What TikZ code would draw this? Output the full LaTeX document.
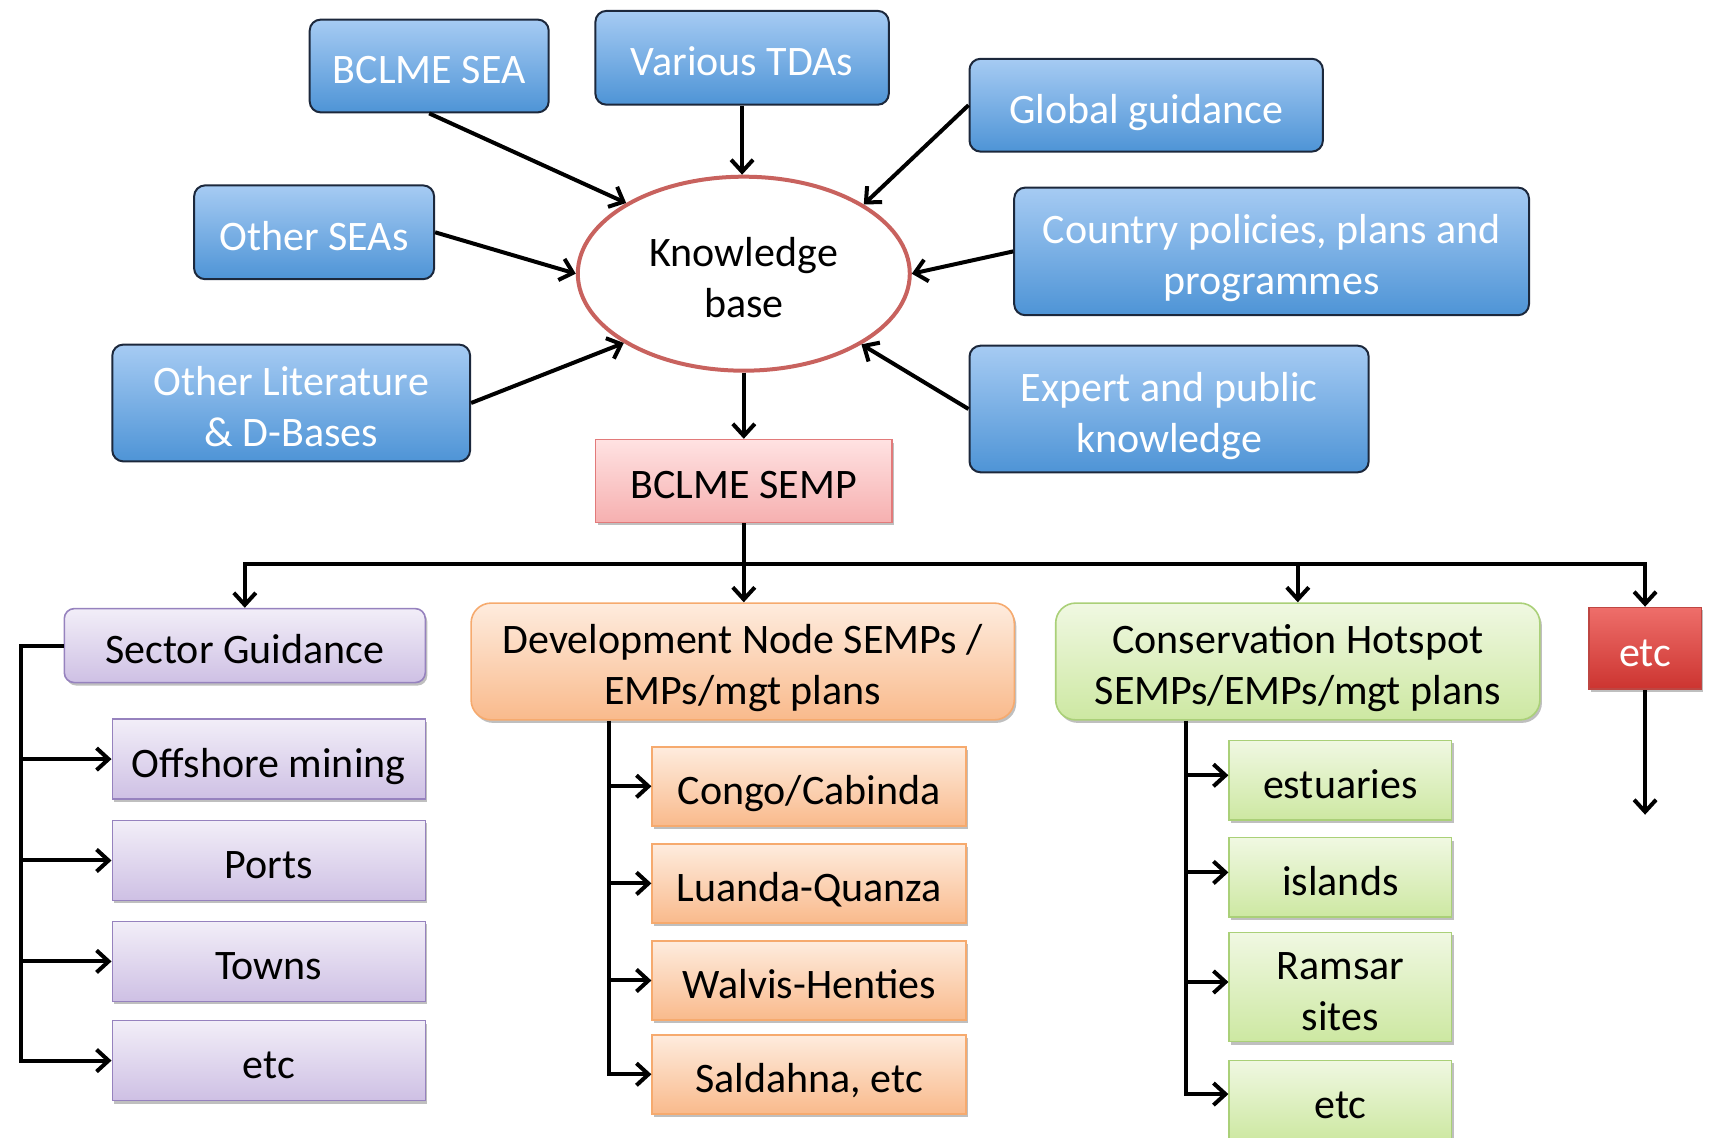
\documentclass[tikz,border=0pt]{standalone}
\usepackage{fontspec}
\setmainfont{Carlito}
\usetikzlibrary{arrows.meta,shadows,shapes.geometric,calc}
\definecolor{bluetop}{RGB}{166,203,243}
\definecolor{bluebot}{RGB}{78,148,214}
\definecolor{blueedge}{RGB}{28,40,60}
\definecolor{kbred}{RGB}{200,98,94}
\definecolor{semptop}{RGB}{255,226,226}
\definecolor{sempbot}{RGB}{246,176,176}
\definecolor{sempedge}{RGB}{226,122,122}
\definecolor{lavtop}{RGB}{242,238,248}
\definecolor{lavbot}{RGB}{206,192,228}
\definecolor{lavedge}{RGB}{150,130,190}
\definecolor{ortop}{RGB}{254,236,222}
\definecolor{orbot}{RGB}{249,186,140}
\definecolor{oredge}{RGB}{246,170,110}
\definecolor{grtop}{RGB}{240,248,226}
\definecolor{grbot}{RGB}{205,232,162}
\definecolor{gredge}{RGB}{170,208,120}
\definecolor{redtop}{RGB}{238,110,106}
\definecolor{redbot}{RGB}{204,52,48}
\definecolor{rededge}{RGB}{190,70,66}
\newcommand\linestrut{\rule[-5.25pt]{0pt}{28.45pt}}
\newcommand\lsa{\rule{0pt}{23.2pt}}
\newcommand\lsb{\rule[-5.25pt]{0pt}{5.25pt}}
\begin{document}
\begin{tikzpicture}[x=0.5pt,y=-0.5pt,
  every node/.style={font=\fontsize{21}{25.5}\selectfont, align=center, inner sep=0pt,
    execute at begin node=\linestrut, execute at end node=\linestrut},
  arr/.style={line width=2pt, -{Straight Barb[length=6pt,width=11pt]}},
  ln/.style={line width=2pt},
  shade/.style={drop shadow={shadow xshift=1pt, shadow yshift=-1.5pt, opacity=0.25, fill=black}},
  bluebox/.style={draw=blueedge, line width=1pt, rounded corners=5.5pt, top color=bluetop, bottom color=bluebot, text=white},
  kbstyle/.style={ellipse, draw=kbred, line width=2pt, fill=white, minimum width=166pt, minimum height=97pt},
  sempbox/.style={rectangle, draw=sempedge, line width=0.8pt, top color=semptop, bottom color=sempbot, shade},
  lavhead/.style={rectangle, rounded corners=5pt, draw=lavedge, line width=0.8pt, top color=lavtop, bottom color=lavbot, shade},
  lavsub/.style={rectangle, draw=lavedge, line width=0.8pt, top color=lavtop, bottom color=lavbot, shade, minimum width=156.5pt, minimum height=40pt},
  orhead/.style={rectangle, rounded corners=10pt, draw=oredge, line width=0.8pt, top color=ortop, bottom color=orbot, shade},
  orsub/.style={rectangle, draw=oredge, line width=0.8pt, top color=ortop, bottom color=orbot, shade, minimum width=157pt, minimum height=39.5pt},
  grhead/.style={rectangle, rounded corners=10pt, draw=gredge, line width=0.8pt, top color=grtop, bottom color=grbot, shade},
  grsub/.style={rectangle, draw=gredge, line width=0.8pt, top color=grtop, bottom color=grbot, shade, minimum width=111.2pt, minimum height=39.8pt},
  redbox/.style={rectangle, draw=rededge, line width=0.8pt, top color=redtop, bottom color=redbot, text=white, shade}
]
\useasboundingbox (0,0) rectangle (1710,1138);
\clip (0,0) rectangle (1710,1138);

% top blue boxes
\node[bluebox, minimum width=119.5pt, minimum height=46.4pt] (sea) at (429.2,66.0) {BCLME SEA};
\node[bluebox, minimum width=146.7pt, minimum height=46.9pt] (tda) at (742.1,57.8) {Various TDAs};
\node[bluebox, minimum width=176.7pt, minimum height=46.4pt] (glob) at (1146.2,105.2) {Global guidance};
\node[bluebox, minimum width=120pt, minimum height=46.9pt] (oth) at (314.1,232.3) {Other SEAs};
\node[bluebox, minimum width=257.4pt, minimum height=63.8pt] (ctry) at (1271.6,251.4) {\lsa Country policies, plans and\\programmes\lsb};
\node[bluebox, minimum width=178.9pt, minimum height=58.4pt] (lit) at (291.2,403.0) {\lsa Other Literature\\\& D-Bases\lsb};
\node[bluebox, minimum width=199.6pt, minimum height=63.3pt] (exp) at (1169.1,409.0) {\lsa Expert and public\\knowledge\lsb};

\node[kbstyle] (kb) at (743.8,273.7) {\lsa Knowledge\\base\lsb};
\node[sempbox, minimum width=148.3pt, minimum height=41.4pt] (semp) at (743.8,481.0) {BCLME SEMP};

\draw[arr] (sea.south) -- (kb.149);
\draw[arr] (tda.south) -- (tda.south |- kb.north);
\draw[arr] (glob.west) -- (kb.30);
\draw[arr] (oth.east) -- (kb.west);
\draw[arr] (ctry.west) -- (kb.east);
\draw[arr] (lit.east) -- (kb.210);
\draw[arr] (exp.west) -- (kb.-31);
\draw[arr] (kb.south) -- (semp.north);

% second level
\node[lavhead, minimum width=180.5pt, minimum height=37pt] (sg) at (244.8,645.6) {Sector Guidance};
\node[orhead, minimum width=271.6pt, minimum height=58.4pt] (dev) at (742.7,661.5) {\lsa Development Node SEMPs /\\EMPs/mgt plans\lsb};
\node[grhead, minimum width=242.1pt, minimum height=58.4pt] (cons) at (1297.8,661.5) {\lsa Conservation Hotspot\\SEMPs/EMPs/mgt plans\lsb};
\node[redbox, minimum width=56.2pt, minimum height=40.9pt] (etc) at (1645.1,648.4) {etc};

\coordinate (bus) at (743.8,563.8);
\draw[arr] (semp.south) -- (semp.south |- bus) -| (sg.north);
\draw[arr] (semp.south |- bus) -- (semp.south |- dev.north);
\draw[arr] (semp.south |- bus) -| (cons.north);
\draw[arr] (semp.south |- bus) -| (etc.north);
\coordinate (etcend) at (1645.1,814.7);
\draw[arr] (etc.south) -- (etcend);

% sector guidance subs
\node[lavsub] (s1) at (268.8,759.1) {Offshore mining};
\node[lavsub] (s2) at (268.8,860.5) {Ports};
\node[lavsub] (s3) at (268.8,961.4) {Towns};
\node[lavsub] (s4) at (268.8,1060.6) {etc};
\coordinate (sgbus) at (20.7,0);
\draw[arr] (sg.west) -- (sg.west -| sgbus) |- (s4.west);
\foreach \n in {s1,s2,s3} \draw[arr] (\n.west -| sgbus) -- (\n.west);

% development subs
\node[orsub] (d1) at (809.2,786.3) {Congo/Cabinda};
\node[orsub] (d2) at (809.2,883.4) {Luanda-Quanza};
\node[orsub] (d3) at (809.2,980.5) {Walvis-Henties};
\node[orsub] (d4) at (809.2,1074.3) {Saldahna, etc};
\coordinate (devbus) at (608.6,0);
\draw[arr] (dev.south -| devbus) |- (d4.west);
\foreach \n in {d1,d2,d3} \draw[arr] (\n.west -| devbus) -- (\n.west);

% conservation subs
\node[grsub] (c1) at (1340.4,780.3) {estuaries};
\node[grsub] (c2) at (1340.4,877.4) {islands};
\node[grsub, minimum height=54.5pt] (c3) at (1340.4,987.0) {\lsa Ramsar\\sites\lsb};
\node[grsub] (c4) at (1340.4,1100.1) {etc};
\coordinate (consbus) at (1185.5,0);
\draw[arr] (cons.south -| consbus) |- ([yshift=3pt]c4.west);
\draw[arr] ([yshift=2.5pt]c1.west -| consbus) -- ([yshift=2.5pt]c1.west);
\draw[arr] ([yshift=2.5pt]c2.west -| consbus) -- ([yshift=2.5pt]c2.west);
\draw[arr] ([yshift=2.5pt]c3.west -| consbus) -- ([yshift=2.5pt]c3.west);
\end{tikzpicture}
\end{document}
